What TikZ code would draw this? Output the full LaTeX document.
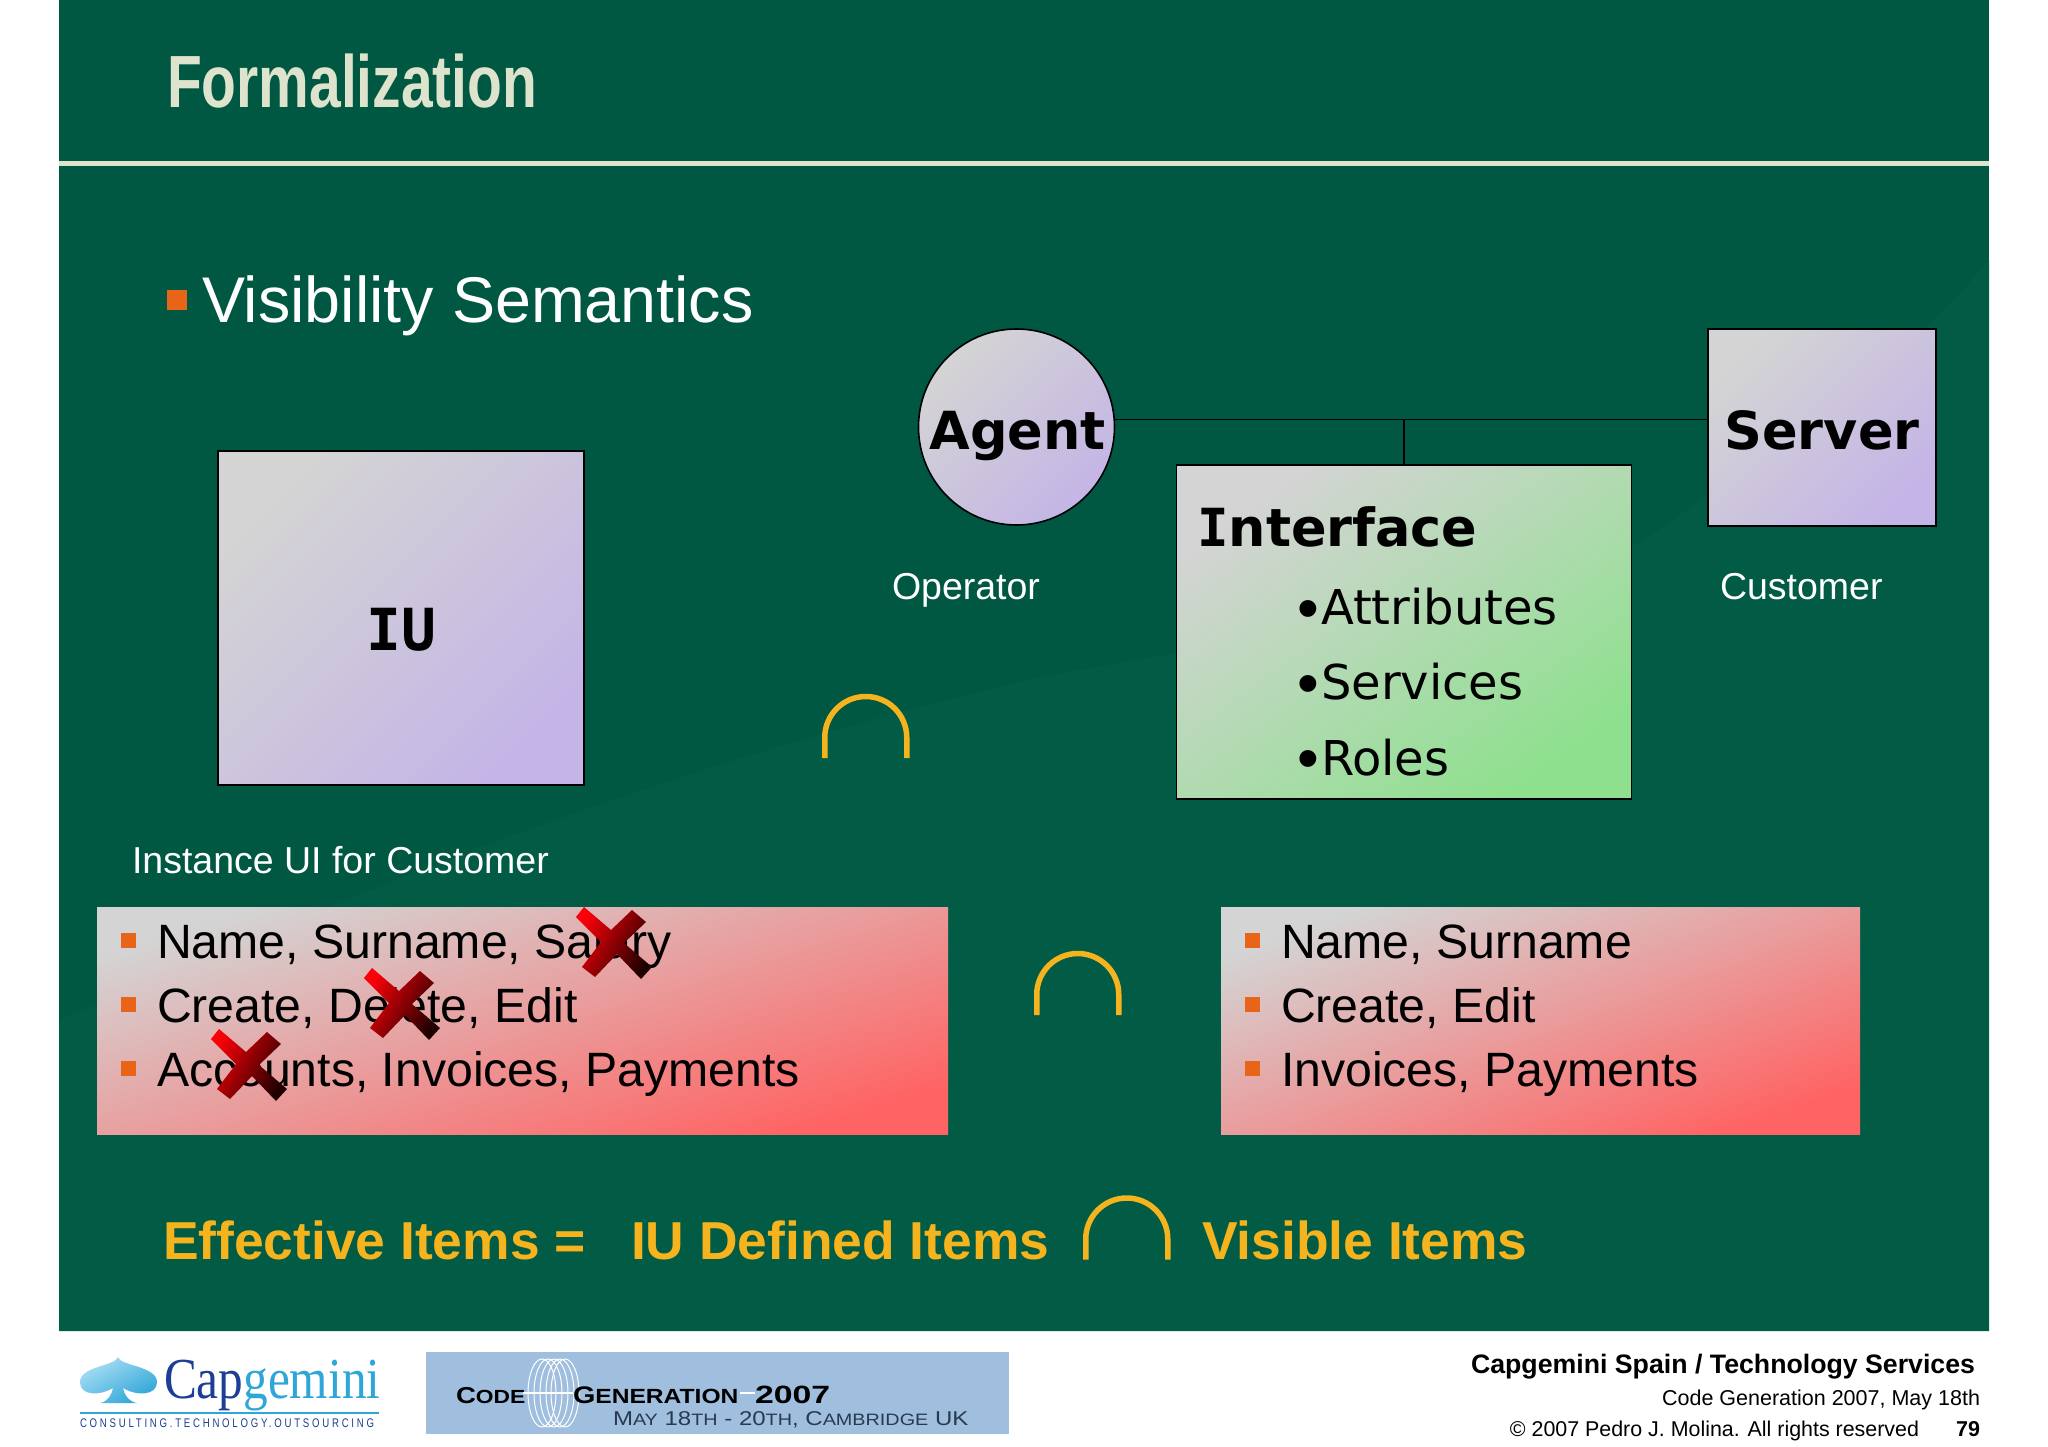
\documentclass[tikz,border=0pt]{standalone}
\usepackage{fontspec}
\setmainfont{Liberation Sans}
\newfontfamily\narrowfont[FakeStretch=0.77]{Liberation Sans}
\newfontfamily\verdanafont{DejaVu Sans}
\newfontfamily\slabfont{DejaVu Sans Mono}
\newfontfamily\logofont[FakeStretch=0.85]{Liberation Serif}
\newfontfamily\bannerfont[FakeStretch=1.2]{Liberation Sans}
\newfontfamily\bannerwide[FakeStretch=1.35]{Liberation Sans}
\newcommand{\fsize}[1]{\fontsize{#1}{#1}\selectfont}
\newcommand{\bigdot}{\makebox[25pt][c]{\raisebox{-4.5pt}{\rmfamily\fsize{62}•}}}
\definecolor{slidegreen}{RGB}{0,88,66}
\definecolor{swooshgreen}{RGB}{2,91,69}
\definecolor{titlecream}{RGB}{221,227,204}
\definecolor{bulletorange}{RGB}{232,100,24}
\definecolor{capyellow}{RGB}{245,180,30}
\definecolor{shadegrey}{RGB}{212,212,212}
\definecolor{shademid}{RGB}{202,192,224}
\definecolor{shadelilac}{RGB}{196,181,230}
\definecolor{shadegreen}{RGB}{142,224,142}
\definecolor{shadered}{RGB}{255,100,100}
\definecolor{crossred}{RGB}{250,0,8}
\definecolor{crossmid}{RGB}{190,0,14}
\definecolor{crossdark}{RGB}{30,0,0}
\definecolor{bannerblue}{RGB}{160,190,222}
\definecolor{bannerslate}{RGB}{40,58,80}
\definecolor{logonavy}{RGB}{28,62,148}
\definecolor{logoblue}{RGB}{47,166,216}
\definecolor{logopale}{RGB}{170,222,244}
\begin{document}
\begin{tikzpicture}[x=1pt,y=-1pt,
   txt/.style={anchor=base west,inner sep=0pt,outer sep=0pt},
   txtr/.style={anchor=base east,inner sep=0pt,outer sep=0pt},
   lilacbox/.style={draw=black,line width=1.6pt,shade,top color=shadegrey,middle color=shademid,bottom color=shadelilac,shading angle=45,inner sep=0pt},
   greenbox/.style={draw=black,line width=1.6pt,shade,top color=shadegrey,bottom color=shadegreen,shading angle=36,inner sep=0pt},
   redbox/.style={anchor=north west,shade,top color=shadegrey,bottom color=shadered,shading angle=17,inner sep=0pt},
   square/.style={anchor=center,fill=bulletorange,inner sep=0pt},
   wire/.style={black,line width=1.6pt},
   capline/.style={capyellow,line width=5.5pt},
   ring/.style={white,line width=1pt},
   item/.style={txt,black,font=\fsize{48.2}},
   whitelabel/.style={txt,white,font=\fsize{37.5}},
   bold/.style={txt,black,font=\verdanafont\bfseries\fsize{52.5}},
   verdana/.style={txt,black,font=\verdanafont\fsize{48}},
   yellowlabel/.style={txt,capyellow,font=\bfseries\fsize{53.4}},
   crossmark/.pic={\shade[top color=crossred,middle color=crossmid,bottom color=crossdark,shading angle=60]
      (-38,-26) -- (-30,-36) -- (-3,-13) -- (18,-33) -- (32,-21) -- (10,0) -- (38,24) -- (27,36) -- (3,11) -- (-19,34) -- (-32,24) -- (-13,-1) -- cycle;}]
   \useasboundingbox (0,0) rectangle (2048,1447);
   \fill[white] (0,0) rectangle (2048,1447);
   \fill[slidegreen] (59,0) rectangle (1989,1331);
   \fill[swooshgreen] (59,1020) .. controls (300,920) and (600,780) .. (1041,677) .. controls (1300,630) and (1580,590) .. (1662,528) .. controls (1760,455) and (1880,390) .. (1989,260) -- (1989,1331) -- (59,1331) -- cycle;
   \fill[titlecream] (59,161) rectangle (1989,166);
   \node[txt,titlecream,font=\narrowfont\bfseries\fsize{74}] (title) at (167,108) {Formalization};
   \node[square,minimum size=20pt] (mainbullet) at (177,300) {};
   \node[txt,white,font=\fsize{64.6}] (heading) at (202,322.5) {Visibility Semantics};

   \node[lilacbox,minimum width=366pt,minimum height=334pt] (iu) at (401,618) {};
   \node[bold,anchor=base,font=\slabfont\bfseries\fsize{58}] (iutext) at (401,650) {IU};
   \node[lilacbox,circle,minimum size=196pt] (agent) at (1016.5,427) {};
   \node[bold,anchor=base] (agenttext) at (1017.5,449.5) {Agent};
   \node[lilacbox,minimum width=228pt,minimum height=197pt] (server) at (1822,427.5) {};
   \node[bold,anchor=base] (servertext) at (1822,449.5) {Server};
   \node[greenbox,minimum width=455pt,minimum height=334pt] (interface) at (1404,632) {};
   \node[bold] (interfacetext) at (1197,546) {{\slabfont I}nterface};
   \node[verdana] (attributes) at (1296,624.5) {\bigdot Attributes};
   \node[verdana] (services) at (1296,699.5) {\bigdot Services};
   \node[verdana] (roles) at (1296,775) {\bigdot Roles};
   \coordinate (tee) at (1404,419.5);
   \draw[wire] (agent.east |- tee) -- (server.west |- tee);
   \draw[wire] (tee) -- (interface.north);

   \node[whitelabel] (operator) at (892,599.5) {Operator};
   \node[whitelabel] (customer) at (1720,599.5) {Customer};
   \node[whitelabel] (instance) at (132,873) {Instance UI for Customer};

   \draw[capline] (824.75,758) -- (824.75,737.5) arc[start angle=180,end angle=360,radius=41] -- (906.75,758);
   \draw[capline] (1036.75,1015) -- (1036.75,994.5) arc[start angle=180,end angle=360,radius=41] -- (1118.75,1015);
   \draw[capline] (1085.75,1259.5) -- (1085.75,1239) arc[start angle=180,end angle=360,radius=41] -- (1167.75,1259.5);

   \node[redbox,minimum width=851pt,minimum height=227pt] (leftlist) at (97,907) {};
   \node[square,minimum size=15pt] (lb1) at (128.5,940.5) {};
   \node[square,minimum size=15pt] (lb2) at (128.5,1004.5) {};
   \node[square,minimum size=15pt] (lb3) at (128.5,1068.5) {};
   \node[item] (l1) at (157,958.5) {Name, Surname, Salary};
   \node[item] (l2) at (157,1022.5) {Create, Delete, Edit};
   \node[item] (l3) at (157,1086.5) {Accounts, Invoices, Payments};
   \pic (x1) at (614,943) {crossmark};
   \pic (x2) at (402,1004) {crossmark};
   \pic (x3) at (249,1065) {crossmark};

   \node[redbox,minimum width=639pt,minimum height=227pt,shading angle=20] (rightlist) at (1221,907) {};
   \node[square,minimum size=15pt] (rb1) at (1252.5,940.5) {};
   \node[square,minimum size=15pt] (rb2) at (1252.5,1004.5) {};
   \node[square,minimum size=15pt] (rb3) at (1252.5,1068.5) {};
   \node[item] (r1) at (1281,958.5) {Name, Surname};
   \node[item] (r2) at (1281,1022.5) {Create, Edit};
   \node[item] (r3) at (1281,1086.5) {Invoices, Payments};

   \node[yellowlabel] (effective) at (163,1259) {Effective Items =};
   \node[yellowlabel] (defined) at (631,1259) {IU Defined Items};
   \node[yellowlabel] (visible) at (1202,1259) {Visible Items};

   \shade[top color=logopale,bottom color=logoblue,shading angle=30] (118,1357) .. controls (116,1366) and (80,1366) .. (80,1382) .. controls (80,1396) and (100,1396) .. (113,1388) .. controls (112,1394) and (108,1402) .. (100,1403) -- (137,1403) .. controls (129,1402) and (124,1394) .. (123,1388) .. controls (136,1396) and (157,1396) .. (157,1382) .. controls (157,1366) and (120,1366) .. (118,1357) -- cycle;
   \node[txt,font=\logofont\fsize{58}] (logo) at (164,1398) {\color{logonavy}Cap\color{logoblue}gemini};
   \fill[logoblue] (80,1412) rectangle (379,1414);
   \node[txt,logonavy,font=\narrowfont\fsize{12.5}] (tagline) at (80,1427) {\addfontfeature{LetterSpace=22}CONSULTING.TECHNOLOGY.OUTSOURCING};

   \fill[bannerblue] (426,1352) rectangle (1009,1434);
   \draw[ring] (542,1393) ellipse[x radius=14,y radius=34];
   \draw[ring] (548,1393) ellipse[x radius=14,y radius=34];
   \draw[ring] (554,1393) ellipse[x radius=14,y radius=34];
   \draw[ring] (560,1393) ellipse[x radius=14,y radius=34];
   \draw[ring] (565,1393) ellipse[x radius=14,y radius=34];
   \fill[white] (523,1392) rectangle (573,1394);
   \fill[white] (740,1392) rectangle (755,1394);
   \node[txt,black,font=\bannerfont\bfseries\fsize{23}] (bannercode) at (456,1403) {C{\fsize{19}ODE}};
   \node[txt,black,font=\bannerfont\bfseries\fsize{24}] (bannergen) at (573,1403) {G{\fsize{20.5}ENERATION}};
   \node[txt,black,font=\bannerwide\bfseries\fsize{25}] (banneryear) at (755,1403) {2007};
   \node[txt,bannerslate,font=\bannerfont\fsize{20}] (bannerdate) at (613,1425) {M{\fsize{16.5}AY} 18{\fsize{16.5}TH} - 20{\fsize{16.5}TH}, C{\fsize{16.5}AMBRIDGE} UK};

   \node[txtr,black,font=\bfseries\fsize{26.7}] (company) at (1975,1373) {Capgemini Spain / Technology Services};
   \node[txtr,black,font=\fsize{21.5}] (event) at (1980,1405) {Code Generation 2007, May 18th};
   \node[txtr,black,font=\fsize{21.4}] (rights) at (1919,1436.5) {© 2007 Pedro J. Molina. All rights reserved};
   \node[txtr,black,font=\bfseries\fsize{21.5}] (pagenum) at (1980,1436.5) {79};
\end{tikzpicture}
\end{document}
